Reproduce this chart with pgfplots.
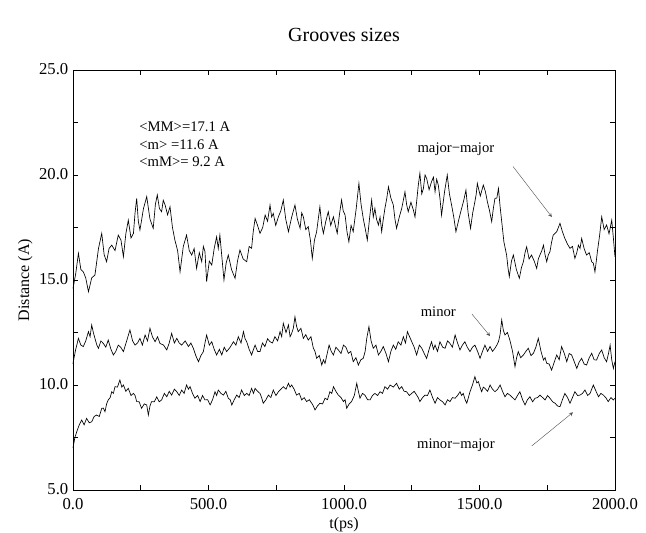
\documentclass[border=0pt]{standalone}
\usepackage{fontspec}
\setmainfont{Liberation Serif}
\usepackage{pgfplots}
\pgfplotsset{compat=1.18}

\begin{document}
\begin{tikzpicture}
\begin{axis}[
    scale only axis,
    width=406.5pt, height=315pt,
    xmin=0, xmax=2000, ymin=5, ymax=25,
    xtick={0,500,...,2000}, ytick={5,10,...,25},
    minor x tick num=1, minor y tick num=1,
    tick pos=both, tick align=inside,
    major tick length=4pt, minor tick length=4pt,
    axis line style={line width=0.6pt}, every tick/.style={line width=0.5pt},
    ticklabel style={font=\fontsize{12.5}{14}\selectfont},
    xticklabel style={yshift=-2.5pt},
    yticklabel style={yshift=1pt},
    /pgf/number format/.cd, fixed, fixed zerofill, precision=1, 1000 sep={}, assume math mode=true,
    /pgfplots/.cd,
    xlabel={t(ps)}, ylabel={Distance (A)},
    label style={font=\fontsize{12}{14}\selectfont},
    xlabel style={at={(axis description cs:0.5,0)}, anchor=north, yshift=-17pt},
    ylabel style={yshift=-2pt},
    title={Grooves sizes},
    title style={font=\fontsize{15}{18}\selectfont, yshift=12pt},
    clip=false,
]
% major-major
\addplot[black, line width=0.5pt] coordinates {
(0,14.6)(10,15.3)(20,16.27)(29,15.5)(38,15.39)(47,15.1)(57,14.44)(69,15.1)(81,15.24)(94,16.5)(106,17.22)(115,16.2)(124,15.87)(133,16.5)(143,16.66)(155,16.4)(167,17.14)(177,16.9)(186,16.11)(195,17.2)(204,17.85)(214,17.0)(223,17.22)(229,18.2)(235,18.89)(241,17.8)(247,17.38)(260,18.4)(272,18.97)(284,17.9)(296,17.46)(304,18.6)(311,19.05)(319,18.4)(327,18.25)(333,18.8)(340,18.57)(349,18.1)(358,18.49)(367,17.5)(376,16.9)(386,16.4)(395,15.39)(407,16.6)(419,17.14)(429,16.4)(438,16.19)(447,16.5)(456,15.55)(466,16.3)(475,15.87)(481,16.6)(487,16.35)(493,14.92)(503,15.9)(512,15.71)(521,16.5)(530,17.06)(536,16.5)(542,17.14)(550,16.0)(557,15.0)(565,15.8)(573,16.19)(585,15.5)(598,15.08)(607,15.9)(616,16.43)(628,16.0)(641,15.87)(650,16.6)(659,16.51)(665,17.3)(672,17.93)(681,17.6)(690,17.22)(700,17.5)(709,18.09)(718,17.8)(727,18.57)(733,18.0)(739,18.17)(748,17.6)(758,18.01)(767,18.3)(776,18.81)(785,17.9)(795,17.3)(807,18.0)(819,18.57)(828,17.9)(838,17.46)(844,18.2)(850,18.01)(859,17.4)(868,17.54)(876,16.9)(883,16.03)(891,16.9)(899,17.3)(905,17.9)(911,18.49)(918,17.6)(924,17.22)(933,17.8)(942,18.25)(951,17.6)(961,18.01)(968,17.6)(975,17.22)(983,18.1)(991,18.81)(997,18.3)(1004,18.09)(1011,17.3)(1018,16.82)(1026,17.6)(1034,17.3)(1045,18.4)(1055,19.6)(1063,18.6)(1071,17.93)(1079,17.4)(1086,16.9)(1094,17.9)(1102,18.81)(1108,18.0)(1114,18.41)(1120,17.9)(1127,17.62)(1133,18.0)(1139,17.3)(1145,17.9)(1151,18.41)(1158,18.9)(1164,19.44)(1173,18.9)(1182,18.57)(1188,17.9)(1194,17.46)(1204,18.0)(1213,18.41)(1219,18.8)(1225,19.2)(1231,18.6)(1237,18.25)(1247,18.7)(1256,18.33)(1262,18.0)(1268,18.73)(1274,19.5)(1280,20.08)(1287,19.1)(1293,19.36)(1299,20.0)(1305,19.84)(1314,19.3)(1323,19.68)(1330,19.9)(1336,19.2)(1342,19.8)(1348,19.52)(1354,18.9)(1360,18.09)(1371,19.2)(1381,20.0)(1389,19.1)(1397,18.57)(1405,18.0)(1413,17.3)(1424,17.9)(1434,18.41)(1442,18.8)(1450,19.28)(1458,18.2)(1467,17.46)(1475,18.2)(1483,18.73)(1488,19.1)(1492,19.6)(1503,19.0)(1514,19.52)(1522,19.2)(1529,18.73)(1537,18.3)(1545,17.78)(1551,18.4)(1557,18.89)(1564,18.9)(1570,19.36)(1576,18.5)(1582,17.78)(1590,16.82)(1600,16.19)(1605,15.6)(1610,15.16)(1618,15.9)(1625,16.19)(1636,15.5)(1647,15.08)(1655,15.6)(1662,15.87)(1668,16.3)(1674,16.58)(1683,16.0)(1692,16.19)(1702,15.9)(1711,15.55)(1717,16.0)(1723,16.19)(1730,16.4)(1736,16.66)(1742,16.2)(1748,15.87)(1754,16.2)(1760,16.35)(1766,16.8)(1772,17.14)(1785,17.3)(1797,17.7)(1806,17.3)(1815,16.98)(1825,16.7)(1834,16.51)(1843,16.6)(1852,16.03)(1859,16.3)(1865,16.66)(1871,16.5)(1877,16.98)(1886,16.5)(1895,16.19)(1905,16.3)(1914,15.87)(1920,15.8)(1926,15.39)(1931,15.9)(1935,16.35)(1943,17.1)(1951,18.01)(1960,17.4)(1969,17.62)(1978,17.2)(1988,17.85)(1994,17.0)(2000,16.1)
};
% minor
\addplot[black, line width=0.5pt] coordinates {
(0,11.0)(1,11.11)(10,11.7)(20,12.22)(29,11.9)(38,11.83)(47,12.1)(57,12.54)(63,12.3)(69,12.86)(75,12.5)(81,12.22)(88,11.9)(94,11.75)(103,12.1)(112,11.98)(121,11.8)(130,12.14)(140,11.7)(149,11.43)(158,11.6)(167,11.9)(176,11.8)(186,11.59)(198,12.1)(210,12.62)(220,12.1)(229,11.9)(238,12.0)(247,12.22)(256,11.9)(266,12.38)(275,12.1)(284,12.7)(293,12.3)(303,12.06)(312,12.3)(321,11.98)(334,11.9)(346,11.67)(355,12.0)(364,12.46)(374,12.0)(383,12.22)(392,12.0)(401,11.9)(414,12.1)(426,11.83)(435,12.0)(444,11.75)(453,11.4)(463,11.11)(472,11.4)(481,11.59)(487,12.0)(493,12.38)(503,11.9)(512,12.06)(521,11.7)(530,11.43)(540,11.7)(549,11.43)(558,11.8)(567,11.59)(580,11.8)(592,12.06)(601,11.9)(610,12.3)(620,12.0)(629,12.54)(635,12.2)(641,12.06)(650,11.7)(659,11.43)(666,11.7)(672,11.9)(681,11.6)(690,11.59)(699,12.0)(708,11.83)(718,12.2)(727,12.06)(736,12.0)(745,12.3)(755,12.1)(764,12.54)(770,12.3)(776,12.94)(786,12.5)(795,12.86)(801,12.3)(807,12.46)(813,12.7)(819,13.25)(825,12.8)(831,12.54)(841,12.7)(850,12.22)(859,12.4)(868,12.14)(878,12.3)(887,11.75)(893,11.6)(899,11.27)(909,11.4)(918,10.95)(924,11.2)(930,11.03)(938,11.5)(945,11.9)(953,11.6)(961,11.43)(970,11.8)(979,11.67)(989,11.5)(998,11.9)(1007,11.8)(1016,11.51)(1025,11.6)(1034,11.11)(1044,11.3)(1053,10.95)(1062,11.2)(1071,11.27)(1078,11.6)(1084,12.22)(1092,12.78)(1100,12.1)(1108,11.75)(1118,11.9)(1127,11.43)(1136,11.6)(1145,11.83)(1155,11.5)(1164,11.11)(1173,11.6)(1182,11.9)(1191,11.7)(1200,12.06)(1210,11.9)(1219,12.3)(1227,12.0)(1234,12.54)(1242,12.3)(1250,12.06)(1259,11.8)(1268,11.43)(1278,11.9)(1287,11.75)(1296,11.5)(1305,11.27)(1314,11.7)(1323,12.06)(1330,11.7)(1336,11.9)(1345,11.6)(1354,12.06)(1364,11.8)(1373,11.75)(1382,12.1)(1391,11.98)(1400,11.8)(1410,12.38)(1419,12.0)(1428,11.67)(1437,11.9)(1446,12.06)(1455,11.8)(1465,11.59)(1474,11.8)(1483,11.9)(1493,11.6)(1502,11.27)(1511,11.6)(1520,11.9)(1530,11.6)(1539,11.83)(1548,11.6)(1557,11.75)(1564,11.9)(1570,12.06)(1576,12.4)(1582,13.1)(1588,12.6)(1594,12.38)(1603,12.5)(1612,12.14)(1622,11.6)(1631,10.87)(1637,11.3)(1643,11.59)(1652,11.3)(1662,11.43)(1671,11.6)(1680,11.75)(1690,11.4)(1699,11.51)(1708,11.8)(1717,12.22)(1727,11.6)(1736,11.19)(1742,11.3)(1748,11.03)(1757,11.0)(1766,10.71)(1776,11.1)(1785,11.43)(1794,11.2)(1803,11.83)(1813,11.5)(1822,11.11)(1831,11.5)(1840,11.43)(1850,11.1)(1859,10.79)(1868,11.1)(1877,11.27)(1886,11.0)(1895,10.95)(1905,11.3)(1914,11.51)(1923,11.2)(1932,11.19)(1942,11.5)(1951,11.67)(1960,11.3)(1969,11.11)(1976,11.5)(1982,11.9)(1988,11.2)(1994,10.79)(2000,11.11)
};
% minor-major
\addplot[black, line width=0.5pt] coordinates {
(0,7.0)(7,7.5)(14,7.78)(23,8.1)(32,8.33)(41,8.1)(50,8.41)(60,8.2)(69,8.25)(78,8.5)(87,8.57)(97,8.5)(106,8.89)(112,8.9)(118,8.73)(124,9.1)(130,9.29)(137,9.4)(143,9.68)(149,9.6)(155,9.92)(164,9.9)(173,10.24)(180,9.9)(186,10.0)(195,9.7)(204,9.84)(214,9.5)(223,9.6)(229,9.5)(235,9.21)(244,9.2)(253,8.89)(263,9.1)(272,9.05)(278,8.57)(284,9.0)(290,9.21)(300,9.2)(309,9.44)(318,9.2)(327,9.29)(337,9.6)(346,9.44)(355,9.7)(364,9.52)(374,9.8)(383,9.68)(392,9.5)(401,9.76)(410,9.6)(419,10.0)(426,9.8)(432,9.92)(441,9.6)(450,9.37)(460,9.5)(469,9.21)(478,9.5)(487,9.29)(497,9.3)(506,9.05)(515,9.3)(524,9.68)(530,9.5)(536,9.76)(546,9.6)(555,9.52)(564,9.7)(573,9.37)(580,9.3)(586,9.05)(595,9.3)(604,9.52)(613,9.4)(622,9.76)(632,9.5)(641,9.6)(650,9.5)(659,9.84)(666,9.6)(672,9.84)(681,9.7)(690,9.6)(696,9.4)(702,9.13)(712,9.3)(721,9.52)(730,9.4)(739,9.76)(749,9.5)(758,9.68)(767,9.8)(776,9.92)(786,9.8)(795,10.08)(801,9.9)(807,10.0)(816,9.8)(825,9.52)(835,9.6)(844,9.29)(853,9.4)(862,9.21)(872,9.3)(881,9.13)(887,9.0)(893,8.81)(902,9.0)(911,9.13)(921,9.1)(930,9.37)(939,9.3)(948,9.68)(955,9.6)(961,9.92)(970,9.7)(979,9.52)(989,9.4)(998,9.21)(1004,9.3)(1010,8.89)(1019,9.1)(1028,9.21)(1038,9.5)(1047,10.08)(1053,9.7)(1059,9.37)(1068,9.6)(1077,9.52)(1087,9.3)(1096,9.29)(1105,9.5)(1114,9.6)(1124,9.5)(1133,9.68)(1142,9.6)(1151,9.92)(1161,9.8)(1170,10.0)(1182,9.9)(1194,10.08)(1204,9.8)(1213,9.92)(1222,9.7)(1231,9.68)(1241,9.5)(1250,9.6)(1259,9.7)(1268,9.52)(1274,9.4)(1280,9.21)(1290,9.4)(1299,9.52)(1308,9.5)(1317,9.76)(1327,9.4)(1336,9.13)(1345,9.4)(1354,9.29)(1364,9.2)(1373,9.05)(1382,9.3)(1391,9.21)(1400,9.4)(1410,9.37)(1419,9.5)(1428,9.68)(1434,9.5)(1440,9.6)(1447,9.3)(1453,9.13)(1459,9.4)(1465,9.68)(1474,10.0)(1483,10.4)(1490,10.1)(1496,10.16)(1502,9.9)(1508,9.68)(1514,9.9)(1520,9.84)(1530,9.7)(1539,10.0)(1548,9.8)(1557,9.68)(1567,9.8)(1576,10.0)(1585,9.7)(1594,9.44)(1603,9.6)(1612,9.52)(1622,9.4)(1631,9.29)(1640,9.5)(1649,9.68)(1659,9.3)(1668,9.05)(1677,9.3)(1686,9.44)(1696,9.2)(1705,9.37)(1714,9.4)(1723,9.52)(1733,9.4)(1742,9.29)(1751,9.5)(1760,9.37)(1770,9.2)(1779,9.13)(1788,9.0)(1797,8.97)(1806,9.3)(1815,9.6)(1825,9.4)(1834,9.13)(1843,9.4)(1852,9.68)(1862,9.5)(1871,9.52)(1880,9.6)(1889,9.76)(1899,9.5)(1908,9.6)(1914,9.8)(1920,10.0)(1930,9.7)(1939,9.44)(1948,9.6)(1957,9.52)(1966,9.4)(1975,9.21)(1985,9.4)(1994,9.29)(2000,9.37)
};
\node[anchor=west, align=left, inner sep=0pt, font=\fontsize{11}{13}\selectfont]
  at (axis cs:244,21.45) {<MM>=17.1 A\\<m> =11.6 A\\<mM>= 9.2 A};
\node[font=\fontsize{11}{13}\selectfont] at (axis cs:1413,21.25) {major−major};
\node[font=\fontsize{11}{13}\selectfont] at (axis cs:1348,13.5) {minor};
\node[font=\fontsize{11}{13}\selectfont] at (axis cs:1413,7.15) {minor−major};
\draw[->, >=stealth, line width=0.3pt, gray!60!black] (axis cs:1624,20.4) -- (axis cs:1767,18.0);
\draw[->, >=stealth, line width=0.3pt, gray!60!black] (axis cs:1472,13.38) -- (axis cs:1539,12.33);
\draw[->, >=stealth, line width=0.3pt, gray!60!black] (axis cs:1693,7.1) -- (axis cs:1845,8.7);
\coordinate (bbsw) at (rel axis cs:-0.1347,-0.1);
\coordinate (bbne) at (rel axis cs:1.0572,1.1667);
\end{axis}
\pgfresetboundingbox
\path (bbsw) rectangle (bbne);
\end{tikzpicture}
\end{document}
